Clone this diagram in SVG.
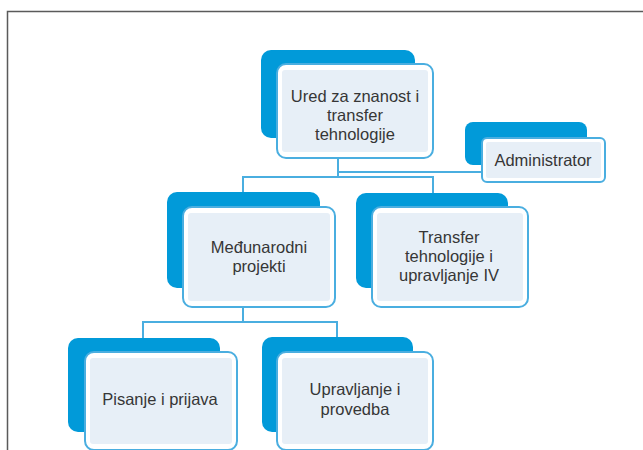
<svg xmlns="http://www.w3.org/2000/svg" width="643" height="450" viewBox="0 0 643 450">
<style>
.back{fill:#019ad9}
.front{fill:#ffffff;stroke:#4aaee0;stroke-width:2}
.inner{fill:#e7eff7}
.conn{fill:none;stroke:#4aaee0;stroke-width:2}
text{font-family:"Liberation Sans",Arial,sans-serif;font-size:16.5px;fill:#363636;text-anchor:middle}
</style>
<rect x="0" y="0" width="643" height="450" fill="#ffffff"/>
<path d="M7.5 450 V11.5 H643" fill="none" stroke="#5a5a5a" stroke-width="1.5"/>
<g id="connectors">
<path class="conn" d="M338 158 V177 M243 193 V177 H433 V193 M338 172 H482"/>
<path class="conn" d="M243 307 V322 M143 338 V322 H337 V338"/>
</g>
<g id="node-ured">
<rect class="back" x="261" y="50" width="154" height="88" rx="10"/>
<rect class="front" x="277" y="64" width="156" height="94" rx="9"/>
<rect class="inner" x="282" y="70" width="146" height="82" rx="3"/>
<text x="355" y="102">Ured za znanost  i</text>
<text x="355" y="121">transfer</text>
<text x="355" y="140">tehnologije</text>
</g>
<g id="node-admin">
<rect class="back" x="465" y="122" width="122" height="43" rx="8"/>
<rect class="front" x="482" y="138" width="123" height="44" rx="5"/>
<rect class="inner" x="486" y="142" width="115" height="36" rx="2"/>
<text x="543" y="166">Administrator</text>
</g>
<g id="node-medunarodni">
<rect class="back" x="167" y="192" width="153" height="96" rx="10"/>
<rect class="front" x="183" y="207" width="152" height="100" rx="9"/>
<rect class="inner" x="188" y="213" width="142" height="88" rx="3"/>
<text x="259" y="253">Međunarodni</text>
<text x="259" y="272">projekti</text>
</g>
<g id="node-transfer">
<rect class="back" x="356" y="193" width="152" height="95" rx="10"/>
<rect class="front" x="372" y="207" width="156" height="100" rx="9"/>
<rect class="inner" x="377" y="213" width="146" height="88" rx="3"/>
<text x="449" y="243">Transfer</text>
<text x="449" y="262">tehnologije i</text>
<text x="449" y="281">upravljanje IV</text>
</g>
<g id="node-pisanje">
<rect class="back" x="68" y="338" width="152" height="94" rx="10"/>
<rect class="front" x="85" y="352" width="152" height="98" rx="9"/>
<rect class="inner" x="90" y="358" width="142" height="86" rx="3"/>
<text x="160" y="405">Pisanje i prijava</text>
</g>
<g id="node-upravljanje">
<rect class="back" x="262" y="337" width="151" height="95" rx="10"/>
<rect class="front" x="277" y="352" width="156" height="98" rx="9"/>
<rect class="inner" x="282" y="358" width="146" height="86" rx="3"/>
<text x="355" y="395">Upravljanje i</text>
<text x="355" y="415">provedba</text>
</g>
</svg>
